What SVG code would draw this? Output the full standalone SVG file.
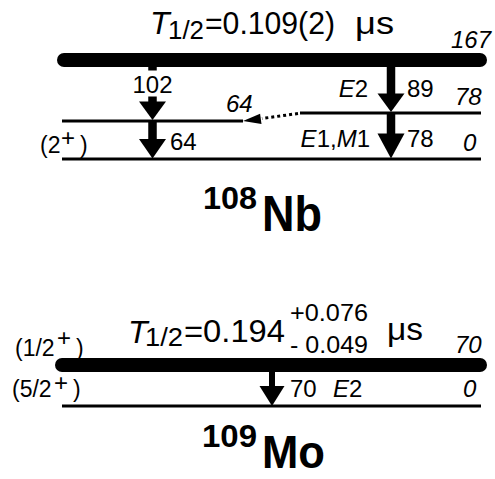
<svg xmlns="http://www.w3.org/2000/svg" width="495" height="479" viewBox="0 0 495 479">
<style>
text{font-family:"Liberation Sans",Arial,sans-serif;fill:#000}
.t{font-size:32px}
.sub{font-size:25px}
.l{font-size:24px}
.sp{font-size:23px}
.pl{font-size:24px}
.i{font-style:italic}
.b{font-weight:bold}
.bar{stroke:#000;stroke-width:14;stroke-linecap:round}
.lvl{stroke:#000;stroke-width:3}
.shaft{stroke:#000;stroke-width:8.5}
.head{fill:#000}
.dot{stroke:#000;stroke-width:3;stroke-dasharray:3 3}
</style>
<rect width="495" height="479" fill="#fff"/>

<g id="nb108-title">
<text class="t i" x="150" y="34">T</text>
<text class="sub" x="168" y="39" textLength="36" lengthAdjust="spacingAndGlyphs">1/2</text>
<text class="t" x="205" y="34" textLength="130" lengthAdjust="spacingAndGlyphs">=0.109(2)</text>
<text class="t" x="355" y="34" textLength="39" lengthAdjust="spacingAndGlyphs">μs</text>
</g>
<g id="nb108-level167">
<line class="bar" x1="64" y1="60" x2="480" y2="60"/>
<text class="l i" x="451" y="48">167</text>
</g>
<g id="nb108-level78">
<line class="lvl" x1="300" y1="113" x2="481" y2="113"/>
<text class="l i" x="455" y="105">78</text>
</g>
<g id="nb108-level64">
<line class="lvl" x1="62" y1="121" x2="243" y2="121"/>
<text class="l i" x="226" y="112">64</text>
</g>
<g id="nb108-level0">
<line class="lvl" x1="62" y1="159" x2="481" y2="159"/>
<text class="l i" x="463" y="151">0</text>
<text class="sp" x="40" y="153">(2</text>
<text class="pl" x="61" y="146">+</text>
<text class="sp" x="80" y="153">)</text>
</g>
<g id="nb108-label">
<text class="b" style="font-size:32px" x="203" y="209" textLength="54" lengthAdjust="spacingAndGlyphs">108</text>
<text class="b" style="font-size:50px" x="262" y="231" textLength="60" lengthAdjust="spacingAndGlyphs">Nb</text>
</g>

<g id="connectors">
<line class="shaft" x1="152.5" y1="67" x2="152.5" y2="70.5"/>
<line class="shaft" x1="152.5" y1="96.5" x2="152.5" y2="102"/>
<polygon class="head" points="139,101.5 166,101.5 152.5,120"/>
<line class="shaft" x1="152.5" y1="121" x2="152.5" y2="140"/>
<polygon class="head" points="139,139 166,139 152.5,158.5"/>
<line class="shaft" x1="391" y1="67" x2="391" y2="94"/>
<polygon class="head" points="377.5,93.5 404.5,93.5 391,112"/>
<line class="shaft" x1="391" y1="113" x2="391" y2="134"/>
<polygon class="head" points="377.5,133.5 404.5,133.5 391,158.5"/>
<line class="dot" x1="298" y1="113.5" x2="262" y2="118.5"/>
<polygon class="head" points="243,121 261.5,124 260.1,113.8"/>
<line class="shaft" style="stroke-width:6" x1="272" y1="371" x2="272" y2="387"/>
<polygon class="head" points="259.5,386 284.5,386 272,406"/>
</g>

<g id="nb108-gamma-labels">
<text class="l" x="152.5" y="93" text-anchor="middle">102</text>
<text class="l" x="170" y="150">64</text>
<text class="l" x="368" y="97" text-anchor="end"><tspan class="i">E</tspan>2</text>
<text class="l" x="407" y="97">89</text>
<text class="l" x="370" y="147" text-anchor="end"><tspan class="i">E</tspan>1,<tspan class="i">M</tspan>1</text>
<text class="l" x="407" y="147">78</text>
</g>

<g id="mo109-title">
<text class="t i" x="128" y="342.5">T</text>
<text class="sub" x="145" y="346" textLength="38" lengthAdjust="spacingAndGlyphs">1/2</text>
<text class="t" x="184" y="342" textLength="101" lengthAdjust="spacingAndGlyphs">=0.194</text>
<text class="l" x="290" y="321" textLength="78" lengthAdjust="spacingAndGlyphs">+0.076</text>
<text class="l" x="290" y="353" textLength="78" lengthAdjust="spacingAndGlyphs">- 0.049</text>
<text class="t" x="387" y="340" textLength="36" lengthAdjust="spacingAndGlyphs">μs</text>
</g>
<g id="mo109-level70">
<line class="bar" x1="62" y1="365" x2="480" y2="365"/>
<text class="l i" x="455" y="353">70</text>
<text class="sp" x="15" y="355.5">(1/2</text>
<text class="pl" x="57" y="346">+</text>
<text class="sp" x="76" y="355.5">)</text>
</g>
<g id="mo109-level0">
<line class="lvl" x1="62" y1="406" x2="481" y2="406"/>
<text class="l i" x="463" y="397">0</text>
<text class="sp" x="12" y="397">(5/2</text>
<text class="pl" x="54" y="391">+</text>
<text class="sp" x="73" y="397">)</text>
</g>
<g id="mo109-gamma-labels">
<text class="l" x="290" y="397">70</text>
<text class="l i" x="333" y="397">E<tspan style="font-style:normal">2</tspan></text>
</g>
<g id="mo109-label">
<text class="b" style="font-size:32px" x="202" y="447" textLength="55" lengthAdjust="spacingAndGlyphs">109</text>
<text class="b" style="font-size:47px" x="262" y="468" textLength="63" lengthAdjust="spacingAndGlyphs">Mo</text>
</g>
</svg>
